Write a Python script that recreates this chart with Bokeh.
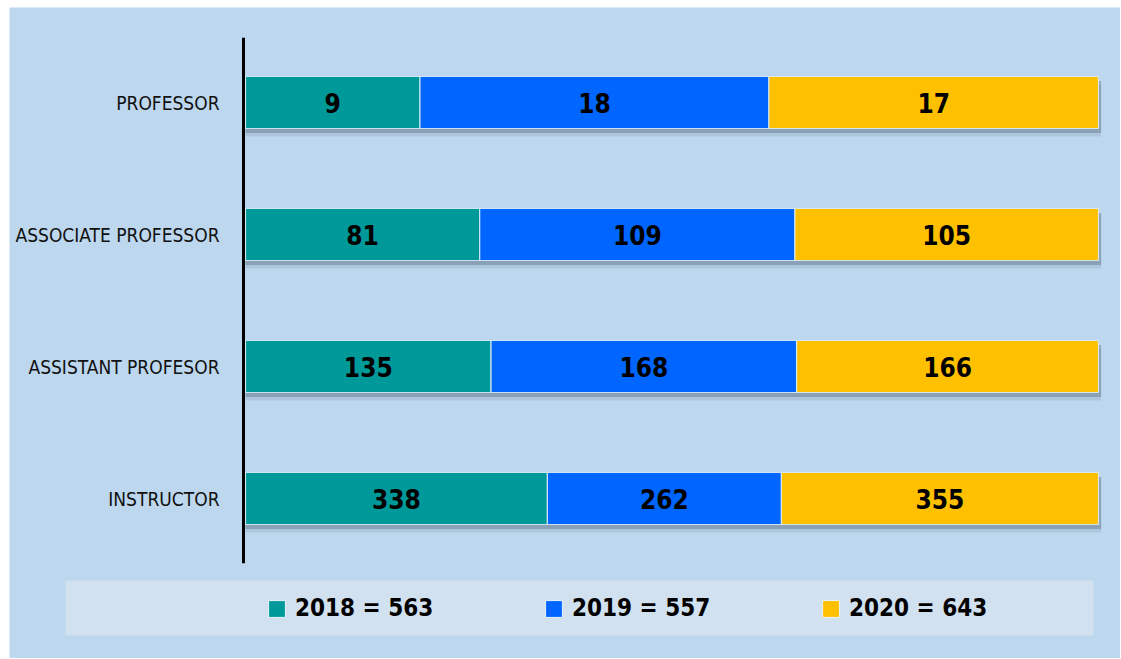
from bokeh.plotting import figure
from bokeh.models import ColumnDataSource, Range1d, Legend, LegendItem
from bokeh.core.properties import value
from bokeh.embed import file_html
from bokeh.resources import INLINE

# ---- data ----
categories = ["INSTRUCTOR", "ASSISTANT PROFESOR", "ASSOCIATE PROFESSOR", "PROFESSOR"]
years = ["2018", "2019", "2020"]
v2018 = [338, 135, 81, 9]
v2019 = [262, 168, 109, 18]
v2020 = [355, 166, 105, 17]
colors = ["#009999", "#0066FF", "#FFC000"]

series = [v2018, v2019, v2020]
row_tot = [sum(s[i] for s in series) for i in range(len(categories))]
year_tot = [sum(s) for s in series]
ypos = list(range(len(categories)))

BG = "#BDD7EE"
FONT = "'DejaVu Sans Condensed', 'Roboto Condensed', 'Liberation Sans Narrow', Roboto, sans-serif"

# ---- layout (pixels inside the figure) ----
W, H = 1111, 651
X0, XW = 236, 853      # pixel of 0 %, pixels for 100 %
Y0, YS = 491, 132      # pixel row of first category, pixels per category


def px2x(px):
    return (px - X0) / XW


def py2y(py):
    return (Y0 - py) / YS


p = figure(width=W, height=H,
           x_range=Range1d(px2x(0), px2x(W)), y_range=Range1d(py2y(H), py2y(0)),
           output_backend="svg", toolbar_location=None,
           x_axis_location=None, y_axis_location=None, min_border=0)
p.margin = (7, 0, 0, 9)
p.background_fill_color = BG
p.border_fill_color = BG
p.outline_line_color = None
p.xgrid.visible = False
p.ygrid.visible = False

BAR_H = 0.394

# shadows under the bars
p.hbar(y=[y - 0.06 for y in ypos], left=0, right=1.003, height=BAR_H,
       fill_color="#6F8299", fill_alpha=0.2, line_color=None)
p.hbar(y=[y - 0.035 for y in ypos], left=0, right=1.003, height=BAR_H,
       fill_color="#5E7088", fill_alpha=0.45, line_color=None)

cum = [0.0] * len(categories)
for yr, vals, col in zip(years, series, colors):
    fr = [v / t for v, t in zip(vals, row_tot)]
    left = cum[:]
    right = [a + b for a, b in zip(cum, fr)]
    mid = [(a + b) / 2 for a, b in zip(left, right)]
    src = ColumnDataSource(dict(y=ypos, left=left, right=right, mid=mid,
                                lab=[str(v) for v in vals]))
    p.hbar(y="y", left="left", right="right", height=BAR_H, source=src,
           fill_color=col, line_color="#D8EBF7", line_width=1.2, line_alpha=0.9)
    p.text(x="mid", y="y", text="lab", source=src, text_align="center",
           text_baseline="middle", text_font=value(FONT), text_font_style="bold",
           text_font_size="26px", text_color="black")
    cum = right

# category axis: black line + labels
p.segment(x0=[px2x(234)], x1=[px2x(234)], y0=[ypos[0] - 0.49], y1=[ypos[-1] + 0.49],
          line_color="black", line_width=3)
p.text(x=[px2x(210)] * len(categories), y=ypos, text=categories,
       text_align="right", text_baseline="middle", text_font=value(FONT),
       text_font_size="19px", text_color="#111111")

# ---- legend strip ----
p.quad(left=[px2x(56)], right=[px2x(1084)], top=[py2y(573)], bottom=[py2y(628)],
       fill_color="#D1E1F0", line_color=None)

items = []
for yr, col, tot in zip(years, colors, year_tot):
    # keys: drawn outside the visible range, shown only in the legend
    r = p.hbar(y=[-50], left=[0], right=[1], height=0.5, fill_color=col,
               line_color="#E8F2FB", line_width=1)
    items.append(LegendItem(label=f"{yr} = {tot}", renderers=[r]))

legend = Legend(items=items, orientation="horizontal", location=(257, 36),
                padding=0, margin=0, spacing=108, glyph_width=21, glyph_height=21,
                label_standoff=8, label_width=140,
                label_text_font=FONT, label_text_font_style="bold",
                label_text_font_size="24px", label_text_color="black",
                background_fill_alpha=0, border_line_color=None)
p.add_layout(legend)

open("out.html", "w").write(file_html(p, INLINE))
